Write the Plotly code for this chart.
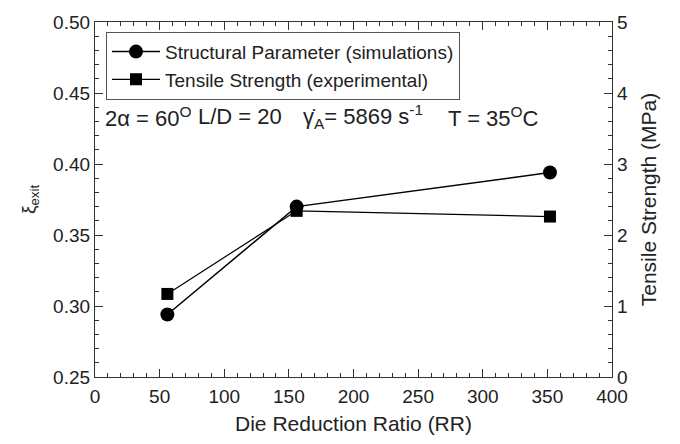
import plotly.graph_objects as go

rr = [56, 156, 352]
xi_exit = [0.294, 0.370, 0.394]
tensile = [1.17, 2.34, 2.26]

FONT = "Liberation Sans, Arial, sans-serif"
TXT = "#222"

# plot area in pixels (for placing text annotations)
PL, PR, PT, PB = 95, 612, 14, 378


def px_x(px):
    return (px - PL) / (PR - PL)


def px_y(py):
    return (PB - py) / (PB - PT)


fig = go.Figure()
fig.add_trace(go.Scatter(
    x=rr, y=xi_exit, mode="lines+markers", name="Structural Parameter (simulations)",
    line=dict(color="black", width=1.5),
    marker=dict(symbol="circle", size=14, color="black"),
))
fig.add_trace(go.Scatter(
    x=rr, y=tensile, mode="lines+markers", name="Tensile Strength (experimental)",
    yaxis="y2",
    line=dict(color="black", width=1.2),
    marker=dict(symbol="square", size=12, color="black"),
))

axis_common = dict(
    showgrid=False, zeroline=False, showline=True, linecolor="#333", linewidth=1.2,
    ticks="inside", ticklen=8, tickcolor="#333", tickwidth=1,
    tickfont=dict(family=FONT, size=19, color=TXT),
)

fig.update_layout(
    width=680, height=444,
    margin=dict(l=PL, r=680 - PR, t=PT, b=444 - PB),
    paper_bgcolor="white", plot_bgcolor="white",
    font=dict(family=FONT, color=TXT),
    xaxis=dict(range=[0, 400], dtick=50, mirror="ticks", ticklabelstandoff=2,
               minor=dict(dtick=10, ticks="inside", ticklen=4, tickcolor="#333"),
               title=dict(text="Die Reduction Ratio (RR)", font=dict(family=FONT, size=21, color=TXT), standoff=10),
               **axis_common),
    yaxis=dict(range=[0.25, 0.50], dtick=0.05, tickformat=".2f",
               minor=dict(dtick=0.01, ticks="inside", ticklen=4, tickcolor="#333"),
               title=dict(text="ξ<sub>exit</sub>", font=dict(family=FONT, size=19, color=TXT), standoff=12),
               **axis_common),
    yaxis2=dict(range=[0, 5], dtick=1, overlaying="y", side="right",
                minor=dict(dtick=0.2, ticks="inside", ticklen=4, tickcolor="#333"),
                title=dict(text="Tensile Strength (MPa)", font=dict(family=FONT, size=21, color=TXT), standoff=14),
                **axis_common),
    legend=dict(x=px_x(106), y=px_y(24), xanchor="left", yanchor="top",
                bordercolor="#555", borderwidth=1, bgcolor="white",
                font=dict(family=FONT, size=19, color=TXT),
                itemwidth=48, tracegroupgap=0),
    showlegend=True,
)

ann_parts = [
    (105, "2α = 60<sup>O</sup>"),
    (198, "L/D = 20"),
    (303, "γ̇<sub>A</sub>= 5869 s<sup>-1</sup>"),
    (448, "T = 35<sup>O</sup>C"),
]
for px, txt in ann_parts:
    fig.add_annotation(
        xref="paper", yref="paper", x=px_x(px), y=px_y(111),
        xanchor="left", yanchor="middle", text=txt, showarrow=False,
        xshift=-2, font=dict(family=FONT, size=22, color=TXT),
    )

fig.write_html("out.html")
